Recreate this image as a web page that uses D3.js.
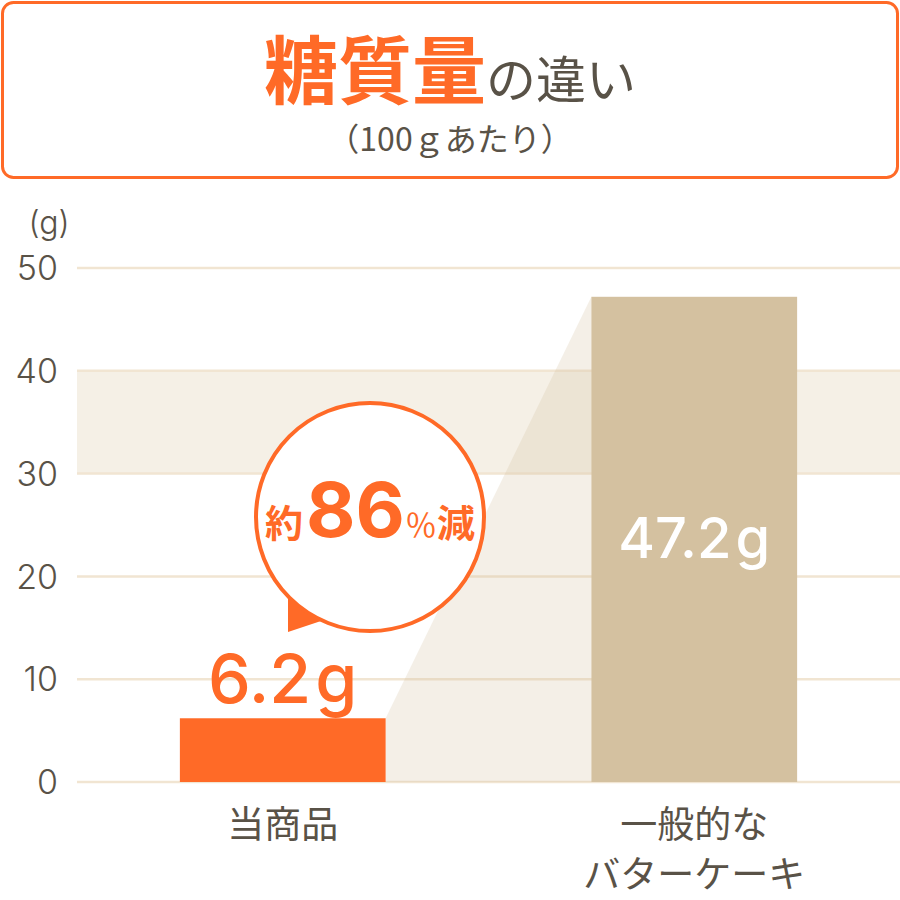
<!DOCTYPE html>
<html><head><meta charset="utf-8">
<script src="https://cdn.jsdelivr.net/npm/d3@7"></script>
<style>body{margin:0;background:#fff}svg{display:block}</style>
</head><body>
<svg id="c" width="900" height="900"></svg>
<script>
const categories = ["当商品", "一般的な\nバターケーキ"];
const values = [6.2, 47.2];
const valueLabels = ["6.2", "47.2"];
const yTicks = [0, 10, 20, 30, 40, 50];
const bandRange = [30, 40];
const reductionLabel = ["約", "86", "％", "減"];

const ORANGE = "#ff6a27", BEIGE = "#d4c1a0", GRAY = "#595247", GRID = "#f1e5d2", BAND = "#f5f0e6";
const NUM = "Inter, 'Noto Sans CJK JP', sans-serif";
const JP = "'Noto Sans CJK JP', sans-serif";

const svg = d3.select("#c");
const x = d3.scaleBand().domain(categories).range([77, 900]).paddingInner(0.5).paddingOuter(0.25);
const y = d3.scaleLinear().domain([0, 50]).range([782, 268]);

// title box
svg.append("rect").attr("x", 2.5).attr("y", 2.5).attr("width", 895).attr("height", 175)
  .attr("rx", 11).attr("fill", "#fff").attr("stroke", ORANGE).attr("stroke-width", 3);
const t = svg.append("text").attr("x", 450).attr("y", 98).attr("text-anchor", "middle").attr("font-family", JP);
t.append("tspan").text("糖質量").attr("font-size", 74).attr("font-weight", 700).attr("fill", ORANGE);
t.append("tspan").text("の違い").attr("font-size", 50).attr("font-weight", 400).attr("fill", GRAY);
svg.append("text").attr("x", 450).attr("y", 151).attr("text-anchor", "middle").attr("font-family", JP)
  .attr("font-size", 32).attr("fill", GRAY).text("（100ｇあたり）");

// band
svg.append("rect").attr("x", 77).attr("width", 823).attr("y", y(bandRange[1])).attr("height", y(bandRange[0]) - y(bandRange[1]))
  .attr("fill", BAND);
// grid
svg.selectAll("line.grid").data(yTicks).join("line").attr("class", "grid")
  .attr("x1", 77).attr("x2", 900).attr("y1", d => y(d)).attr("y2", d => y(d))
  .attr("stroke", GRID).attr("stroke-width", 2.5);
// tick labels
svg.selectAll("text.tick").data(yTicks).join("text").attr("class", "tick")
  .attr("x", 58).attr("y", d => y(d)).attr("dy", "0.36em").attr("text-anchor", "end")
  .attr("font-family", NUM).attr("font-size", 34).attr("font-weight", 300).attr("fill", GRAY).text(d => d);
svg.append("text").attr("x", 49).attr("y", 234).attr("text-anchor", "middle").attr("font-family", NUM)
  .attr("font-size", 32).attr("font-weight", 300).attr("fill", GRAY).text("(g)");

// connector polygon
const x0 = x(categories[0]) + x.bandwidth(), x1 = x(categories[1]);
svg.append("path").attr("d", d3.line()([[x0, y(values[0])], [x1, y(values[1])], [x1, y(0)], [x0, y(0)]]) + "Z")
  .attr("fill", BEIGE).attr("fill-opacity", 0.25);

// bars
svg.selectAll("rect.bar").data(values).join("rect").attr("class", "bar")
  .attr("x", (d, i) => x(categories[i])).attr("width", x.bandwidth())
  .attr("y", d => y(d)).attr("height", d => y(0) - y(d))
  .attr("fill", (d, i) => i === 0 ? ORANGE : BEIGE);

// value labels
const c0 = x(categories[0]) + x.bandwidth() / 2, c1 = x(categories[1]) + x.bandwidth() / 2;
const v0 = svg.append("text").attr("x", c0).attr("y", y(values[0]) - 15).attr("text-anchor", "middle")
  .attr("font-family", NUM).attr("font-size", 68).attr("font-weight", 500).attr("fill", ORANGE);
v0.append("tspan").text(valueLabels[0]);
v0.append("tspan").text("g").attr("dx", 4);
const v1 = svg.append("text").attr("x", c1).attr("y", 558).attr("text-anchor", "middle")
  .attr("font-family", NUM).attr("font-size", 56).attr("font-weight", 500).attr("fill", "#fff");
v1.append("tspan").text(valueLabels[1]);
v1.append("tspan").text("g").attr("dx", 4);

// bubble
svg.append("path").attr("d", "M288,598 L288,632 L324,620 Z").attr("fill", ORANGE);
svg.append("circle").attr("cx", 370).attr("cy", 517).attr("r", 114).attr("fill", "#fff").attr("stroke", ORANGE).attr("stroke-width", 4);
const b = svg.append("text").attr("x", 370).attr("y", 537).attr("text-anchor", "middle")
  .attr("font-weight", 700).attr("fill", ORANGE);
b.append("tspan").text(reductionLabel[0]).attr("font-family", JP).attr("font-size", 38);
b.append("tspan").text(reductionLabel[1]).attr("font-family", NUM).attr("font-size", 76).attr("dx", 3);
b.append("tspan").text(reductionLabel[2]).attr("font-family", JP).attr("font-size", 32).attr("font-weight", 400).attr("dx", 0);
b.append("tspan").text(reductionLabel[3]).attr("font-family", JP).attr("font-size", 38);

// category labels
categories.forEach((c, i) => {
  const tx = svg.append("text").attr("text-anchor", "middle").attr("font-family", JP).attr("font-size", 37)
    .attr("fill", GRAY).attr("x", x(c) + x.bandwidth() / 2);
  c.split("\n").forEach((line, j) => tx.append("tspan").attr("x", x(c) + x.bandwidth() / 2).attr("y", 838 + j * 50).text(line));
});
</script>
</body></html>
